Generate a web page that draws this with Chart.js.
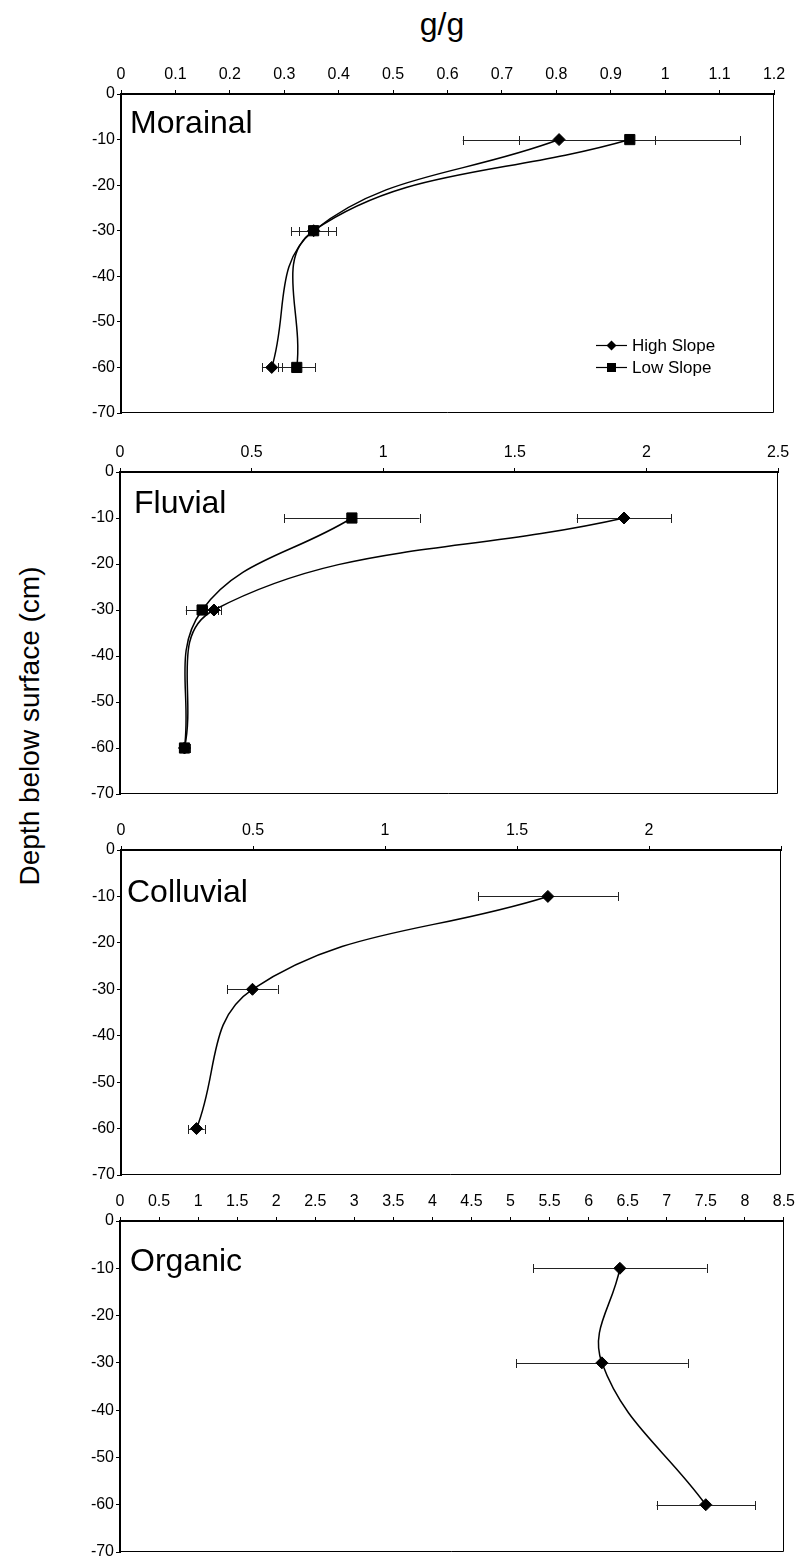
<!DOCTYPE html>
<html><head><meta charset="utf-8">
<script src="https://cdn.jsdelivr.net/npm/chart.js@4.4.1/dist/chart.umd.min.js"></script>
<style>
html,body{margin:0;padding:0;background:#fff;overflow:hidden}
#wrap{position:relative;width:801px;height:1557px;overflow:hidden;background:#fff}
canvas{position:absolute;left:0}
.t{position:absolute;font-family:"Liberation Sans",Arial,sans-serif;color:#000;white-space:nowrap}
</style></head><body>
<div id="wrap">
<div class="t" style="left:342px;width:200px;text-align:center;top:6px;font-size:32px;line-height:36px">g/g</div>
<div class="t" style="left:-170px;width:400px;text-align:center;top:708px;font-size:28px;line-height:36px;transform:rotate(-90deg)">Depth below surface (cm)</div>
</div>
<script>
// ---------- data ----------
const depths = [-10, -30, -60];
const yTickValues = [0, -10, -20, -30, -40, -50, -60, -70];
const yTickLabels = ['0', '-10', '-20', '-30', '-40', '-50', '-60', '-70'];

const seriesNames = ['High Slope', 'Low Slope'];
const panelNames = ['Morainal', 'Fluvial', 'Colluvial', 'Organic'];

const morainalHigh = [0.805, 0.354, 0.277];
const morainalHighErr = [0.177, 0.026, 0.018];
const morainalLow = [0.935, 0.354, 0.323];
const morainalLowErr = [0.203, 0.041, 0.034];

const fluvialHigh = [1.915, 0.357, 0.245];
const fluvialHighErr = [0.18, 0.027, 0.02];
const fluvialLow = [0.881, 0.312, 0.245];
const fluvialLowErr = [0.257, 0.062, 0.02];

const colluvial = [1.617, 0.498, 0.286];
const colluvialErr = [0.265, 0.095, 0.031];

const organic = [6.40, 6.17, 7.50];
const organicErr = [1.11, 1.10, 0.63];

const morainalXTicks = [0, 0.1, 0.2, 0.3, 0.4, 0.5, 0.6, 0.7, 0.8, 0.9, 1, 1.1, 1.2];
const morainalXLabels = ['0', '0.1', '0.2', '0.3', '0.4', '0.5', '0.6', '0.7', '0.8', '0.9', '1', '1.1', '1.2'];
const fluvialXTicks = [0, 0.5, 1, 1.5, 2, 2.5];
const fluvialXLabels = ['0', '0.5', '1', '1.5', '2', '2.5'];
const colluvialXTicks = [0, 0.5, 1, 1.5, 2, 2.5];
const colluvialXLabels = ['0', '0.5', '1', '1.5', '2', ''];
const organicXTicks = [0, 0.5, 1, 1.5, 2, 2.5, 3, 3.5, 4, 4.5, 5, 5.5, 6, 6.5, 7, 7.5, 8, 8.5];
const organicXLabels = ['0', '0.5', '1', '1.5', '2', '2.5', '3', '3.5', '4', '4.5', '5', '5.5', '6', '6.5', '7', '7.5', '8', '8.5'];

// ---------- layout / style ----------
const FONT = '"Liberation Sans", Arial, sans-serif';
const panels = [
  { name: panelNames[0], top: 94, bottom: 413, left: 121, right: 774, xTicks: morainalXTicks, xLabels: morainalXLabels,
    series: [ { label: seriesNames[0], vals: morainalHigh, err: morainalHighErr, style: 'diamond' },
              { label: seriesNames[1], vals: morainalLow, err: morainalLowErr, style: 'square' } ],
    labelDx: 9, labelDy: 39, legend: true },
  { name: panelNames[1], top: 472, bottom: 794, left: 120, right: 778, xTicks: fluvialXTicks, xLabels: fluvialXLabels,
    series: [ { label: seriesNames[0], vals: fluvialHigh, err: fluvialHighErr, style: 'diamond' },
              { label: seriesNames[1], vals: fluvialLow, err: fluvialLowErr, style: 'square' } ],
    labelDx: 14, labelDy: 41, legend: false },
  { name: panelNames[2], top: 850, bottom: 1175, left: 121, right: 781, xTicks: colluvialXTicks, xLabels: colluvialXLabels,
    series: [ { label: panelNames[2], vals: colluvial, err: colluvialErr, style: 'diamond' } ],
    labelDx: 6, labelDy: 52, legend: false },
  { name: panelNames[3], top: 1221, bottom: 1552, left: 120, right: 784, xTicks: organicXTicks, xLabels: organicXLabels,
    series: [ { label: panelNames[3], vals: organic, err: organicErr, style: 'diamond' } ],
    labelDx: 10, labelDy: 50, legend: false }
];

const AXIS_H = 50, PAD_B = 16;

function drawMarker(ctx, style, x, y, r) {
  ctx.beginPath();
  if (style === 'diamond') {
    ctx.moveTo(x, y - r); ctx.lineTo(x + r, y); ctx.lineTo(x, y + r); ctx.lineTo(x - r, y); ctx.closePath();
  } else {
    ctx.rect(x - r, y - r, 2 * r, 2 * r);
  }
  ctx.fillStyle = '#000'; ctx.fill();
}

const decoPlugin = {
  id: 'deco',
  beforeDatasetsDraw(chart, args, opts) {
    const ctx = chart.ctx, a = chart.chartArea;
    ctx.save();
    // right and bottom frame
    ctx.strokeStyle = '#000'; ctx.lineWidth = 1;
    ctx.beginPath();
    ctx.moveTo(Math.round(a.right) - 0.5, a.top); ctx.lineTo(Math.round(a.right) - 0.5, Math.round(a.bottom) - 0.5);
    ctx.lineTo(a.left, Math.round(a.bottom) - 0.5);
    ctx.stroke();
    // error bars
    const xs = chart.scales.x, ys = chart.scales.y;
    ctx.strokeStyle = '#222'; ctx.lineWidth = 1;
    chart.data.datasets.forEach(ds => {
      const errs = ds.errorBars || [];
      ds.data.forEach((p, i) => {
        const e = errs[i]; if (e == null) return;
        const y = Math.round(ys.getPixelForValue(p.y)) + 0.5;
        const x1 = xs.getPixelForValue(p.x - e), x2 = xs.getPixelForValue(p.x + e);
        ctx.beginPath();
        ctx.moveTo(x1, y); ctx.lineTo(x2, y);
        ctx.moveTo(Math.round(x1) + 0.5, y - 4.5); ctx.lineTo(Math.round(x1) + 0.5, y + 4.5);
        ctx.moveTo(Math.round(x2) + 0.5, y - 4.5); ctx.lineTo(Math.round(x2) + 0.5, y + 4.5);
        ctx.stroke();
      });
    });
    ctx.restore();
  },
  afterDraw(chart, args, opts) {
    const ctx = chart.ctx, a = chart.chartArea;
    ctx.save();
    ctx.fillStyle = '#000';
    ctx.font = '32px ' + FONT;
    ctx.textBaseline = 'alphabetic'; ctx.textAlign = 'left';
    ctx.fillText(opts.name, a.left + opts.dx, a.top + opts.dy);
    if (opts.legend) {
      const items = chart.data.datasets;
      items.forEach((ds, i) => {
        const y = a.bottom - 67.5 + i * 22;
        const x0 = a.right - 178, x1 = a.right - 147;
        ctx.strokeStyle = '#000'; ctx.lineWidth = 1.2;
        ctx.beginPath(); ctx.moveTo(x0, y); ctx.lineTo(x1, y); ctx.stroke();
        drawMarker(ctx, ds.markerStyle, (x0 + x1) / 2, y, ds.markerStyle === 'diamond' ? 5 : 4.5);
        ctx.font = '17px ' + FONT;
        ctx.textBaseline = 'middle';
        ctx.fillText(ds.label, a.right - 142, y + 1);
      });
    }
    ctx.restore();
  }
};

const wrap = document.getElementById('wrap');
panels.forEach((p, idx) => {
  const cv = document.createElement('canvas');
  const h = (p.bottom - p.top) + AXIS_H + PAD_B;
  cv.width = 801; cv.height = h;
  cv.style.top = (p.top - AXIS_H) + 'px';
  cv.style.width = '801px'; cv.style.height = h + 'px';
  wrap.appendChild(cv);

  const datasets = p.series.map(s => ({
    label: s.label,
    data: depths.map((d, i) => ({ x: s.vals[i], y: d })),
    errorBars: s.err,
    markerStyle: s.style,
    showLine: true,
    tension: 0.4,
    borderColor: '#000',
    borderWidth: 1.5,
    pointStyle: s.style === 'diamond' ? 'rectRot' : 'rect',
    pointRadius: s.style === 'diamond' ? 6 : 7.2,
    pointBackgroundColor: '#000',
    pointBorderColor: '#000',
    pointBorderWidth: 1,
    pointHoverRadius: 6
  }));

  new Chart(cv, {
    type: 'scatter',
    data: { datasets },
    plugins: [decoPlugin],
    options: {
      responsive: false, animation: false, devicePixelRatio: 1,
      layout: { padding: { left: 0, top: 0, right: 801 - p.right, bottom: PAD_B } },
      plugins: {
        legend: { display: false }, tooltip: { enabled: false },
        deco: { name: p.name, dx: p.labelDx, dy: p.labelDy, legend: p.legend }
      },
      scales: {
        x: {
          type: 'linear', position: 'top',
          min: p.xTicks[0], max: p.xTicks[p.xTicks.length - 1],
          afterBuildTicks: s => { s.ticks = p.xTicks.map(v => ({ value: v })); },
          afterFit: s => { s.height = AXIS_H; },
          ticks: { autoSkip: false, maxRotation: 0, padding: 6, color: '#000',
                   font: { family: FONT, size: 16 },
                   callback: (v, i) => p.xLabels[i] },
          grid: { display: true, drawOnChartArea: false, drawTicks: true, tickLength: 4, tickColor: '#000', tickWidth: 1 },
          border: { display: true, color: '#000', width: 2 }
        },
        y: {
          type: 'linear', position: 'left',
          min: -70, max: 0,
          afterBuildTicks: s => { s.ticks = yTickValues.map(v => ({ value: v })); },
          afterFit: s => { s.width = p.left; },
          ticks: { autoSkip: false, padding: 2, color: '#000',
                   font: { family: FONT, size: 16 },
                   callback: (v, i) => yTickLabels[i] },
          grid: { display: true, drawOnChartArea: false, drawTicks: true, tickLength: 4, tickColor: '#000', tickWidth: 1 },
          border: { display: true, color: '#000', width: 2 }
        }
      }
    }
  });
});
</script>
</body></html>
